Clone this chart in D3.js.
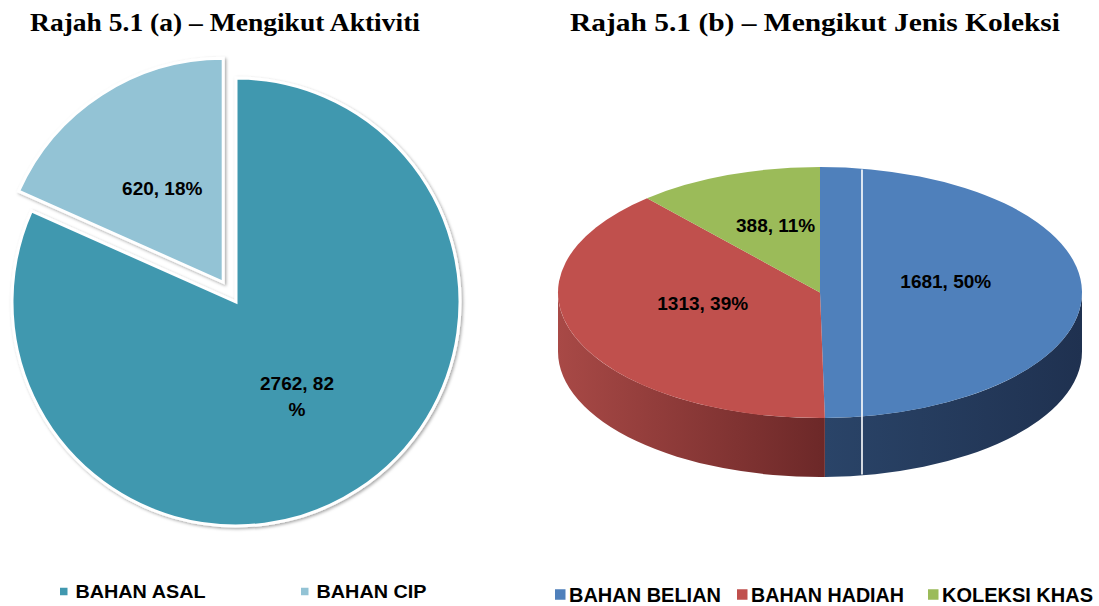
<!DOCTYPE html>
<html lang="en">
<head>
<meta charset="UTF-8">
<title>Rajah 5.1</title>
<style>
  body { margin: 0; background: #fff; }
  svg { display: block; }
  .title { font-family: "Liberation Serif", "Times New Roman", serif; font-weight: bold; font-size: 26px; fill: #000; }
  .lbl { font-family: "Liberation Sans", Arial, sans-serif; font-weight: bold; font-size: 19px; fill: #000; }
  .legend text { font-family: "Liberation Sans", Arial, sans-serif; font-weight: bold; fill: #000; }
</style>
</head>
<body>
<svg id="chart" width="1099" height="606"></svg>
<script src="https://d3js.org/d3.v7.min.js"></script>
<script>
// Rajah 5.1 (a) - by activity
const activityNames = ["BAHAN ASAL", "BAHAN CIP"];
const activityValues = [2762, 620];
const activityColors = ["#4198AF", "#93C3D5"];

// Rajah 5.1 (b) - by collection type
const collectionNames = ["BAHAN BELIAN", "BAHAN HADIAH", "KOLEKSI KHAS"];
const collectionValues = [1681, 1313, 388];
const collectionColors = ["#4F80BB", "#C0504D", "#9BBB59"];
const collectionSides = [["#2A4468", "#1F3150"], ["#A84946", "#6C2828"], ["#7E9848", "#5C7034"]];

const titles = ["Rajah 5.1 (a) – Mengikut Aktiviti", "Rajah 5.1 (b) – Mengikut Jenis Koleksi"];

const svg = d3.select("#chart");
const defs = svg.append("defs");

defs.append("filter")
    .attr("id", "shadow")
    .attr("x", "-10%").attr("y", "-10%").attr("width", "120%").attr("height", "120%")
    .append("feDropShadow")
    .attr("dx", 1.5).attr("dy", 1.5)
    .attr("stdDeviation", 1.6)
    .attr("flood-color", "#000")
    .attr("flood-opacity", 0.35);

// titles
svg.selectAll(".title")
    .data(titles)
    .enter()
    .append("text")
    .attr("class", "title")
    .attr("x", (d, i) => i === 0 ? 30 : 570)
    .attr("y", 31)
    .attr("textLength", (d, i) => i === 0 ? 390 : 490)
    .attr("lengthAdjust", "spacingAndGlyphs")
    .text(d => d);

const pct = (v, total) => Math.round(v / total * 100) + "%";

// ---------- left: flat pie with exploded slice ----------
const leftCx = 236, leftCy = 302, leftR = 224, explode = 23.5;
const actTotal = d3.sum(activityValues);

const pieA = d3.pie().sort(null).value(d => d)(activityValues);
const arcA = d3.arc().innerRadius(0).outerRadius(leftR);

const left = svg.append("g").attr("transform", `translate(${leftCx},${leftCy})`);

const sliceA = left.selectAll(".sliceA")
    .data(pieA)
    .enter()
    .append("g")
    .attr("class", "sliceA")
    .attr("transform", d => {
        if (d.index === 0) return null;
        const mid = (d.startAngle + d.endAngle) / 2;
        return `translate(${Math.sin(mid) * explode},${-Math.cos(mid) * explode})`;
    });

sliceA.append("path")
    .attr("d", arcA)
    .attr("fill", (d, i) => activityColors[i])
    .attr("stroke", "#fff")
    .attr("stroke-width", 3)
    .attr("stroke-linejoin", "miter")
    .attr("filter", "url(#shadow)");

sliceA.append("text")
    .attr("class", "lbl")
    .attr("text-anchor", "middle")
    .attr("transform", d => `translate(${arcA.centroid(d)})`)
    .each(function (d) {
        const txt = `${d.data}, ${pct(d.data, actTotal)}`;
        const t = d3.select(this);
        // big slice label wraps before the percent sign
        const lines = d.index === 0 ? [txt.slice(0, -1), "%"] : [txt];
        lines.forEach((line, k) => {
            t.append("tspan")
                .attr("x", 0)
                .attr("y", (k - (lines.length - 1) / 2) * 26)
                .attr("dy", "0.35em")
                .text(line);
        });
    });

// ---------- right: 3D pie ----------
const cx = 820, cy = 292.5, rx = 262, ry = 125.5, depth = 59;
const colTotal = d3.sum(collectionValues);
const pieB = d3.pie().sort(null).value(d => d)(collectionValues);

const px = a => cx + rx * Math.sin(a);
const py = a => cy - ry * Math.cos(a);

collectionSides.forEach((c, i) => {
    const g = defs.append("linearGradient")
        .attr("id", "side" + i)
        .attr("x1", 0).attr("x2", 1).attr("y1", 0).attr("y2", 0);
    g.append("stop").attr("offset", 0).attr("stop-color", c[0]);
    g.append("stop").attr("offset", 1).attr("stop-color", c[1]);
});

const right = svg.append("g");

// outer walls, only the front half (90deg..270deg) is visible
const sides = pieB.map(d => {
    const s = Math.max(d.startAngle, Math.PI / 2);
    const e = Math.min(d.endAngle, Math.PI * 1.5);
    return { d, s, e };
}).filter(o => o.e > o.s);

right.selectAll(".side")
    .data(sides)
    .enter()
    .append("path")
    .attr("class", "side")
    .attr("fill", o => `url(#side${o.d.index})`)
    .attr("d", o => {
        const large = o.e - o.s > Math.PI ? 1 : 0;
        return `M${px(o.s)},${py(o.s)}` +
            `A${rx},${ry} 0 ${large} 1 ${px(o.e)},${py(o.e)}` +
            `L${px(o.e)},${py(o.e) + depth}` +
            `A${rx},${ry} 0 ${large} 0 ${px(o.s)},${py(o.s) + depth}Z`;
    });

right.selectAll(".top")
    .data(pieB)
    .enter()
    .append("path")
    .attr("class", "top")
    .attr("fill", (d, i) => collectionColors[i])
    .attr("d", d => {
        const large = d.endAngle - d.startAngle > Math.PI ? 1 : 0;
        return `M${cx},${cy}L${px(d.startAngle)},${py(d.startAngle)}` +
            `A${rx},${ry} 0 ${large} 1 ${px(d.endAngle)},${py(d.endAngle)}Z`;
    });

// thin white seam through the blue slice, as in the source image
const seamX = cx + 42;
const seamH = ry * Math.sqrt(1 - Math.pow(42 / rx, 2));
right.append("line")
    .attr("x1", seamX).attr("x2", seamX)
    .attr("y1", cy - seamH + 1).attr("y2", cy + seamH + depth - 1)
    .attr("stroke", "#fff")
    .attr("stroke-width", 1.6);

right.selectAll(".lblB")
    .data(pieB)
    .enter()
    .append("text")
    .attr("class", "lbl")
    .attr("text-anchor", "middle")
    .attr("dy", "0.35em")
    .attr("x", d => cx + rx * 0.48 * Math.sin((d.startAngle + d.endAngle) / 2))
    .attr("y", d => cy - ry * 0.48 * Math.cos((d.startAngle + d.endAngle) / 2) - 11)
    .text(d => `${d.data}, ${pct(d.data, colTotal)}`);

// ---------- legends ----------
function legend(names, colors, xs, widths, sq, y, fontSize, gap) {
    const g = svg.append("g").attr("class", "legend");
    const item = g.selectAll("g")
        .data(names)
        .enter()
        .append("g")
        .attr("transform", (d, i) => `translate(${xs[i]},${y})`);
    item.append("rect")
        .attr("x", 0).attr("y", -sq / 2)
        .attr("width", sq).attr("height", sq)
        .attr("fill", (d, i) => colors[i]);
    item.append("text")
        .attr("x", sq + gap)
        .attr("dy", "0.36em")
        .attr("font-size", fontSize)
        .attr("textLength", (d, i) => widths[i])
        .attr("lengthAdjust", "spacingAndGlyphs")
        .text(d => d);
}

legend(activityNames, activityColors, [60, 301], [130, 110], 7.5, 591.5, 18.5, 8);
legend(collectionNames, collectionColors, [555, 737, 928], [152, 153, 151], 10.5, 594.5, 19.5, 3.5);
</script>
</body>
</html>
